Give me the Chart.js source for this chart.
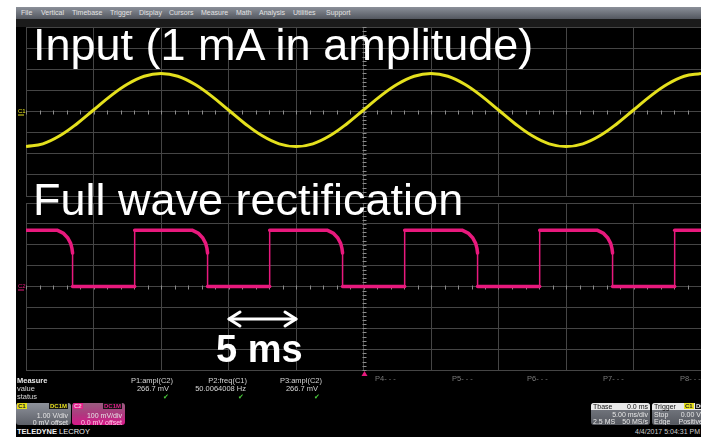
<!DOCTYPE html>
<html>
<head>
<meta charset="utf-8">
<script src="https://cdn.jsdelivr.net/npm/chart.js@4.4.1/dist/chart.umd.min.js"></script>
<style>
  body { margin:0; background:#fff; width:701px; height:437px; overflow:hidden; position:relative; font-family:"Liberation Sans", Arial, sans-serif; }
  .abs { position:absolute; white-space:nowrap; }
  #screen { left:16px; top:7px; width:685px; height:430px; background:#000; }
  #menu { left:16px; top:7px; width:685px; height:12px; background:linear-gradient(#8b9099,#53575f); }
  #band { left:16px; top:19px; width:685px; height:8px; background:#1b1b1b; }
  .mi { top:9px; font-size:7px; line-height:8px; color:#e2e2e2; }
  canvas { position:absolute; }
  .big { color:#fff; font-size:45px; line-height:45px; z-index:5; }
  .sm { font-size:7.5px; line-height:8px; color:#d6d6d6; z-index:5; }
  .r { text-align:right; width:90px; }
  .chk { color:#49c93a; font-size:7px; line-height:8px; z-index:5; }
  .pn { font-size:7.5px; line-height:8px; color:#7b7b7b; }
  .box { border-radius:3px; overflow:hidden; z-index:5; }
  .tag { position:absolute; font-size:6px; line-height:6px; font-weight:bold; padding:0 1px; }
  .ln { position:absolute; font-size:7px; line-height:7px; color:#e6e6e6; white-space:nowrap; }
</style>
</head>
<body>
<div id="screen" class="abs"></div>
<div id="menu" class="abs"></div>
<div id="band" class="abs"></div>
<div class="abs mi" style="left:21px">File</div>
<div class="abs mi" style="left:41px">Vertical</div>
<div class="abs mi" style="left:72px">Timebase</div>
<div class="abs mi" style="left:110px">Trigger</div>
<div class="abs mi" style="left:139px">Display</div>
<div class="abs mi" style="left:169px">Cursors</div>
<div class="abs mi" style="left:201px">Measure</div>
<div class="abs mi" style="left:236px">Math</div>
<div class="abs mi" style="left:259px">Analysis</div>
<div class="abs mi" style="left:293px">Utilities</div>
<div class="abs mi" style="left:326px">Support</div>

<canvas id="c1" width="685" height="180" style="left:16px;top:20px"></canvas>
<canvas id="c2" width="685" height="182" style="left:16px;top:196px"></canvas>

<div class="abs big" style="left:33px;top:22px">Input (1 mA in amplitude)</div>
<div class="abs big" style="left:33px;top:177px">Full wave rectification</div>
<svg class="abs" style="left:0;top:0;z-index:5" width="701" height="437">
  <g stroke="#fff" stroke-width="3" fill="none" stroke-linecap="round" stroke-linejoin="round">
    <line x1="229" y1="319" x2="296" y2="319"/>
    <polyline points="240,312 229,319 240,326"/>
    <polyline points="285,312 296,319 285,326"/>
  </g>
</svg>
<div class="abs" style="left:216px;top:330px;font-size:38px;line-height:38px;font-weight:bold;color:#fff;z-index:5">5 ms</div>

<!-- measure panel -->
<div class="abs sm" style="left:17px;top:377px;font-weight:bold;color:#e8e8e8">Measure</div>
<div class="abs sm" style="left:17px;top:385px">value</div>
<div class="abs sm" style="left:17px;top:393px">status</div>
<div class="abs sm r" style="left:83px;top:377px">P1:ampl(C2)</div>
<div class="abs sm r" style="left:79px;top:385px">266.7 mV</div>
<div class="abs chk" style="left:163px;top:393px">&#10004;</div>
<div class="abs sm r" style="left:157px;top:377px">P2:freq(C1)</div>
<div class="abs sm r" style="left:156px;top:385px">50.0064008 Hz</div>
<div class="abs chk" style="left:238px;top:393px">&#10004;</div>
<div class="abs sm r" style="left:232px;top:377px">P3:ampl(C2)</div>
<div class="abs sm r" style="left:228px;top:385px">266.7 mV</div>
<div class="abs chk" style="left:314px;top:393px">&#10004;</div>
<div class="abs pn" style="left:375px;top:375px">P4- - -</div>
<div class="abs pn" style="left:452px;top:375px">P5- - -</div>
<div class="abs pn" style="left:527px;top:375px">P6- - -</div>
<div class="abs pn" style="left:603px;top:375px">P7- - -</div>
<div class="abs pn" style="left:680px;top:375px">P8- - -</div>

<!-- channel boxes -->
<div class="abs box" style="left:16px;top:403px;width:55px;height:22px;background:linear-gradient(#8e929b,#5c5f67)">
  <div class="tag" style="left:1px;top:0;background:#e6df1e;color:#222">C1</div>
  <div class="tag" style="left:33px;top:0;background:#111;color:#e6df1e">DC1M</div>
  <div class="ln" style="right:3px;top:9px">1.00 V/div</div>
  <div class="ln" style="right:3px;top:16px">0 mV offset</div>
</div>
<div class="abs box" style="left:72px;top:403px;width:53px;height:22px;background:linear-gradient(#9a5d80,#b0367f 55%,#d9188a)">
  <div class="tag" style="left:1px;top:0;background:#e0208a;color:#f5c0dc">C2</div>
  <div class="tag" style="left:31px;top:0;background:#111;color:#e0208a">DC1M</div>
  <div class="ln" style="right:3px;top:9px">100 mV/div</div>
  <div class="ln" style="right:3px;top:16px;color:#ffc6e4">0.0 mV offset</div>
</div>
<div class="abs" style="left:17px;top:427px;font-size:7.5px;line-height:9px;color:#f0f0f0"><b>TELEDYNE</b> LECROY</div>

<!-- timebase / trigger -->
<div class="abs box" style="left:591px;top:403px;width:59px;height:22px;background:linear-gradient(#7b7f87,#55585f)">
  <div style="position:absolute;left:0;top:0;width:59px;height:7px;background:#e9e9e9"></div>
  <div class="ln" style="left:2px;top:0;color:#111">Tbase</div>
  <div class="ln" style="right:2px;top:0;color:#111">0.0 ms</div>
  <div class="ln" style="right:2px;top:8px">5.00 ms/div</div>
  <div class="ln" style="left:2px;top:15px">2.5 MS</div>
  <div class="ln" style="right:2px;top:15px">50 MS/s</div>
</div>
<div class="abs box" style="left:652px;top:403px;width:56px;height:22px;background:linear-gradient(#7b7f87,#55585f)">
  <div style="position:absolute;left:0;top:0;width:56px;height:7px;background:#e9e9e9"></div>
  <div class="ln" style="left:2px;top:0;color:#111">Trigger</div>
  <div class="tag" style="left:32px;top:0;background:#e6df1e;color:#222">C1</div>
  <div class="tag" style="left:43px;top:0;background:#111;color:#eee">DC</div>
  <div class="ln" style="left:2px;top:8px">Stop</div>
  <div class="ln" style="right:7px;top:8px">0.00 V</div>
  <div class="ln" style="left:2px;top:15px">Edge</div>
  <div class="ln" style="right:5px;top:15px">Positive</div>
</div>
<div class="abs" style="left:620px;top:428px;width:80px;text-align:right;font-size:7px;line-height:8px;color:#cfcfcf">4/4/2017 5:04:31 PM</div>

<script>
// time in ms, levels in divisions
var yellowTime = [0, 1.25, 2.5, 3.75, 5, 6.25, 7.5, 8.75, 10, 11.25, 12.5, 13.75, 15, 16.25, 17.5, 18.75,
  20, 21.25, 22.5, 23.75, 25, 26.25, 27.5, 28.75, 30, 31.25, 32.5, 33.75, 35, 36.25, 37.5, 38.75,
  40, 41.25, 42.5, 43.75, 45, 46.25, 47.5, 48.75, 50];
var yellowLevel = [-1.66, -1.53, -1.15, -0.59, 0.07, 0.73, 1.29, 1.67, 1.80, 1.67, 1.29, 0.73, 0.07, -0.59, -1.15, -1.53,
  -1.66, -1.53, -1.15, -0.59, 0.07, 0.73, 1.29, 1.67, 1.80, 1.67, 1.29, 0.73, 0.07, -0.59, -1.15, -1.53,
  -1.66, -1.53, -1.15, -0.59, 0.07, 0.73, 1.29, 1.67, 1.80];

var pinkTime = [0,
  2.30, 2.75, 3.10, 3.30, 3.40, 3.45, 3.45, 8.05, 8.05,
  12.30, 12.75, 13.10, 13.30, 13.40, 13.45, 13.45, 18.05, 18.05,
  22.30, 22.75, 23.10, 23.30, 23.40, 23.45, 23.45, 28.05, 28.05,
  32.30, 32.75, 33.10, 33.30, 33.40, 33.45, 33.45, 38.05, 38.05,
  42.30, 42.75, 43.10, 43.30, 43.40, 43.45, 43.45, 48.05, 48.05,
  50];
var pinkLevel = [2.70,
  2.70, 2.56, 2.32, 2.08, 1.84, 1.60, 0, 0, 2.70,
  2.70, 2.56, 2.32, 2.08, 1.84, 1.60, 0, 0, 2.70,
  2.70, 2.56, 2.32, 2.08, 1.84, 1.60, 0, 0, 2.70,
  2.70, 2.56, 2.32, 2.08, 1.84, 1.60, 0, 0, 2.70,
  2.70, 2.56, 2.32, 2.08, 1.84, 1.60, 0, 0, 2.70,
  2.70];

var gridColor = '#454545';
var yellow = '#e4e01d';
var pink = '#e8197d';

function pts(xs, ys) {
  return xs.map(function(x, i) { return { x: x, y: ys[i] }; });
}

// center line minor ticks, channel label at left, trigger marker
var scopeMarks = {
  id: 'scopeMarks',
  beforeDatasetsDraw: function(chart, args, opts) {
    var ctx = chart.ctx, xs = chart.scales.x, ys = chart.scales.y, area = chart.chartArea;
    var xc = Math.round(xs.getPixelForValue(25)) + 0.5;
    var yc = Math.round(ys.getPixelForValue(0)) + 0.5;
    ctx.save();
    ctx.strokeStyle = '#8c8c8c';
    ctx.lineWidth = 1;
    ctx.beginPath();
    for (var t = 0; t <= 50; t++) {
      var px = Math.round(xs.getPixelForValue(t)) + 0.5;
      ctx.moveTo(px, yc - 2); ctx.lineTo(px, yc + 2);
    }
    for (var i = -20; i <= 20; i++) {
      var py = Math.round(ys.getPixelForValue(i / 5)) + 0.5;
      ctx.moveTo(xc - 2, py); ctx.lineTo(xc + 2, py);
    }
    ctx.stroke();
    ctx.fillStyle = opts.color;
    ctx.font = '6px "Liberation Sans"';
    ctx.textBaseline = 'middle';
    ctx.fillText(opts.label, area.left - 8, yc - 1);
    ctx.fillRect(area.left - 8, yc + 2, 6, 1);
    if (opts.trigger) {
      ctx.beginPath();
      ctx.moveTo(xc, area.bottom + 1);
      ctx.lineTo(xc - 3, area.bottom + 6);
      ctx.lineTo(xc + 3, area.bottom + 6);
      ctx.closePath();
      ctx.fill();
    }
    ctx.restore();
  }
};

function scopeOptions(padBottom, marks) {
  return {
    responsive: false,
    animation: false,
    layout: { padding: { left: 10, right: 0, top: 7, bottom: padBottom } },
    plugins: { legend: { display: false }, tooltip: { enabled: false }, scopeMarks: marks },
    scales: {
      x: { type: 'linear', min: 0, max: 50,
           ticks: { display: false, stepSize: 5 },
           grid: { color: gridColor, drawTicks: false }, border: { display: false } },
      y: { min: -4, max: 4,
           ticks: { display: false, stepSize: 1 },
           grid: { color: gridColor, drawTicks: false }, border: { display: false } }
    }
  };
}

new Chart(document.getElementById('c1'), {
  type: 'line',
  data: { datasets: [{
    data: pts(yellowTime, yellowLevel),
    borderColor: yellow, borderWidth: 3, pointRadius: 0, tension: 0.4
  }] },
  options: scopeOptions(4, { label: 'C1', color: yellow, trigger: false }),
  plugins: [scopeMarks]
});

new Chart(document.getElementById('c2'), {
  type: 'line',
  data: { datasets: [{
    data: pts(pinkTime, pinkLevel),
    borderColor: pink, borderWidth: 3.5, pointRadius: 0, tension: 0,
    borderCapStyle: 'round', borderJoinStyle: 'round',
    segment: {
      borderWidth: function(c) { return c.p0.parsed.x === c.p1.parsed.x ? 1.5 : 3.5; }
    }
  }] },
  options: scopeOptions(8, { label: 'C2', color: pink, trigger: true }),
  plugins: [scopeMarks]
});
</script>
</body>
</html>
